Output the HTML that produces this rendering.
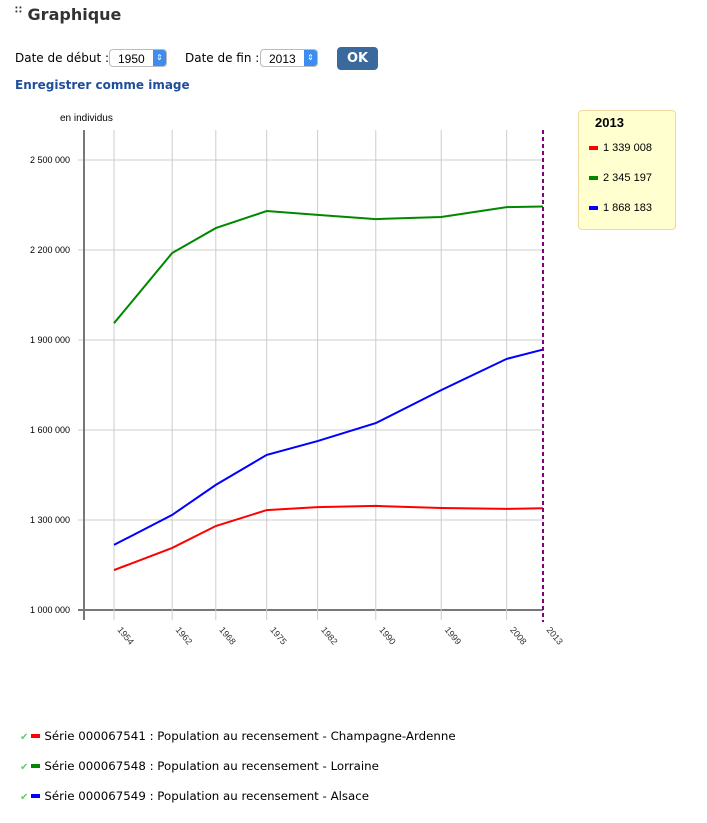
<!DOCTYPE html>
<html><head><meta charset="utf-8"><style>
body{margin:0;width:707px;height:823px;background:#fff;font-family:"Liberation Sans",sans-serif;position:relative;overflow:hidden}
.abs{position:absolute}
.dv{font-family:"DejaVu Sans",sans-serif}
.sel{position:absolute;top:49px;height:18px;border:1px solid #bbb;border-radius:4px;background:#fff;font-size:12px;line-height:18px;box-sizing:border-box}
.sel span.arr{position:absolute;right:0;top:0;width:13px;height:16px;background:#3d8cf0;border-radius:0 3px 3px 0;color:#fff;font-size:8px;text-align:center;line-height:16px}
.leg{position:absolute;left:20px;font-size:11.8px;color:#000;font-family:"DejaVu Sans",sans-serif;white-space:nowrap}
.leg i{display:inline-block;width:9px;height:4px;margin:0 4px 2px 3px;vertical-align:middle}
.leg b{color:#6c6;font-weight:normal;font-size:10px}
</style></head><body>
<div class="abs dv" style="left:15px;top:5px;font-size:16px;font-weight:bold;color:#333"><span style="font-size:10px;vertical-align:top">∷</span> Graphique</div>
<div class="abs dv" style="left:15px;top:51px;font-size:12px">Date de début :</div>
<div class="sel" style="left:109px;width:58px;padding-left:8px">1950<span class="arr">⇕</span></div>
<div class="abs dv" style="left:185px;top:51px;font-size:12px">Date de fin :</div>
<div class="sel" style="left:260px;width:58px;padding-left:8px">2013<span class="arr">⇕</span></div>
<div class="abs dv" style="left:337px;top:47px;width:41px;height:23px;background:#3a6a9c;border-radius:4px;color:#fff;font-weight:bold;font-size:13px;text-align:center;line-height:23px">OK</div>
<div class="abs dv" style="left:15px;top:78px;font-size:12px;font-weight:bold;color:#1f4e9c">Enregistrer comme image</div>
<svg id="chart" class="abs" style="left:0;top:0" width="707" height="700"></svg>
<div class="abs" style="left:578px;top:110px;width:98px;height:120px;background:#ffffd0;border:1px solid #f0d8a0;border-radius:4px;box-sizing:border-box;font-size:11px">
<div style="position:absolute;left:16px;top:4px;font-weight:bold;font-size:13px">2013</div>
<div style="position:absolute;left:10px;top:31px"><i style="display:inline-block;width:9px;height:4px;background:#f00;margin-right:5px;vertical-align:middle"></i>1 339 008</div>
<div style="position:absolute;left:10px;top:61px"><i style="display:inline-block;width:9px;height:4px;background:#080;margin-right:5px;vertical-align:middle"></i>2 345 197</div>
<div style="position:absolute;left:10px;top:91px"><i style="display:inline-block;width:9px;height:4px;background:#00f;margin-right:5px;vertical-align:middle"></i>1 868 183</div>
</div>
<div class="leg" style="top:729px"><b>✔</b><i style="background:#f00"></i>Série 000067541 : Population au recensement - Champagne-Ardenne</div>
<div class="leg" style="top:759px"><b>✔</b><i style="background:#080"></i>Série 000067548 : Population au recensement - Lorraine</div>
<div class="leg" style="top:789px"><b>✔</b><i style="background:#00f"></i>Série 000067549 : Population au recensement - Alsace</div>
<script>
const years=[1954,1962,1968,1975,1982,1990,1999,2008,2013];
const champagne=[1133000,1207000,1280000,1333000,1343000,1347000,1340000,1337000,1339008];
const lorraine=[1956000,2190000,2273000,2330000,2317000,2303000,2310000,2343000,2345197];
const alsace=[1217000,1317000,1417000,1517000,1563000,1623000,1733000,1837000,1868183];
const yTicks=[1000000,1300000,1600000,1900000,2200000,2500000];
const yTickLabels=["1 000 000","1 300 000","1 600 000","1 900 000","2 200 000","2 500 000"];
const svg=document.getElementById('chart');const NS='http://www.w3.org/2000/svg';
function x(yr){return 114+(yr-1954)*(543-114)/(2013-1954);}
function y(v){return 610-(v-1000000)*90/300000;}
function mk(t,a,p){const e=document.createElementNS(NS,t);for(const k in a)e.setAttribute(k,a[k]);(p||svg).appendChild(e);return e;}
let e=mk('text',{x:60,y:121,'font-size':10,fill:'#000'});e.textContent='en individus';


yTicks.forEach((v,i)=>{
 const g=mk('line',{x1:78,x2:543,y1:y(v),y2:y(v),stroke:i?'#ccc':'#777','stroke-width':i?1:2});
 
 
 const t=mk('text',{x:70,y:y(v)+3,'font-size':9,'text-anchor':'end',fill:'#000'});t.textContent=yTickLabels[i];
 
 
});
years.forEach((yr,i)=>{
 if(i<years.length-1){const g=mk('line',{x1:x(yr),x2:x(yr),y1:130,y2:620,stroke:'#ccc'});
 
 }
 const t=mk('text',{x:x(yr)+3,y:630,'font-size':9,fill:'#333',transform:`rotate(50 ${x(yr)+3} 630)`});t.textContent=yr;
 
 
});
let a=mk('line',{x1:84,x2:84,y1:130,y2:620,stroke:'#777','stroke-width':2});


[[champagne,'#f00','series-champagne-ardenne'],[lorraine,'#080','series-lorraine'],[alsace,'#00f','series-alsace']].forEach(([d,c,n])=>{
 const p=mk('polyline',{points:d.map((v,i)=>x(years[i])+','+y(v)).join(' '),fill:'none',stroke:c,'stroke-width':2});
 
 
});
const cur=mk('line',{x1:x(2013),x2:x(2013),y1:130,y2:622,stroke:'#800080','stroke-width':2,'stroke-dasharray':'4,3'});


</script>
</body></html>
